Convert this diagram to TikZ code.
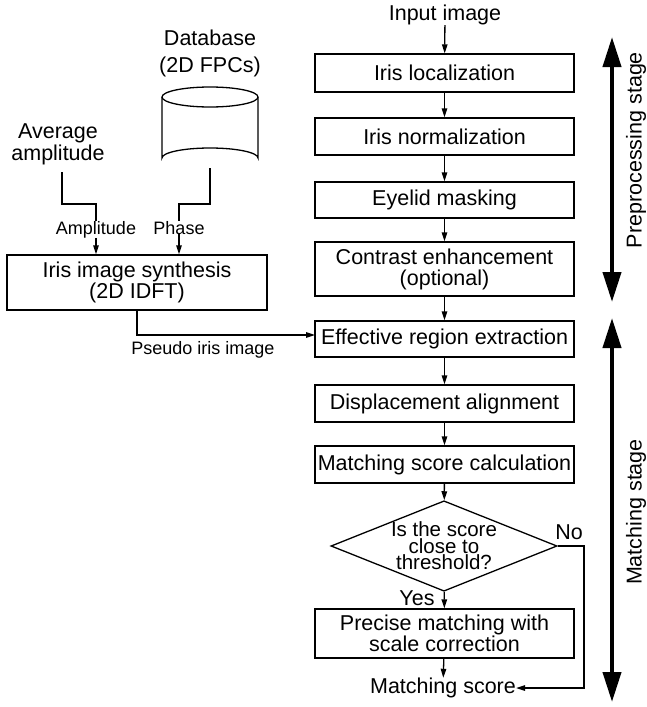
\documentclass[tikz,border=0pt]{standalone}
\usepackage{fontspec}
\setmainfont{Liberation Sans}
\usetikzlibrary{arrows.meta,shapes.geometric}
\begin{document}
\begin{tikzpicture}[x=1pt,y=-1pt,
 box/.style={draw, line width=1.3pt, minimum width=259pt, minimum height=37pt, align=center, font=\fontsize{21.5}{21}\selectfont, inner sep=0pt},
 txt/.style={align=center, font=\fontsize{21.5}{22}\selectfont, inner sep=0pt},
 lbl/.style={font=\fontsize{18}{20}\selectfont, inner sep=0pt},
 arr/.style={-{Triangle[length=9pt,width=5.5pt]}, line width=1.3pt},
 ln/.style={line width=1.3pt},
 big/.style={{Triangle[length=30pt,width=18pt]}-{Triangle[length=30pt,width=18pt]}, line width=4pt}]
\useasboundingbox (0,0) rectangle (646,707);

% right column
\node[txt] (in) at (445,15) {Input image};
\node[box, minimum height=38pt] (loc) at (444.5,73) {Iris localization};
\node[box] (norm) at (444.5,136.5) {Iris normalization};
\node[box, minimum height=36pt] (eye) at (444.5,200) {Eyelid masking};
\node[box, minimum height=54pt] (con) at (444.5,269) {Contrast enhancement\\(optional)};
\node[box, minimum height=36pt] (eff) at (444.5,339) {Effective region extraction};
\node[box] (disp) at (444.5,403.5) {Displacement alignment};
\node[box] (msc) at (444.5,464.5) {Matching score calculation};
\node[draw, line width=1.3pt, diamond, aspect=2.5, inner sep=0pt, minimum width=226pt, minimum height=90pt, align=center, font=\fontsize{20.5}{16.5}\selectfont] (dia) at (444,546) {Is the score\\close to\\threshold?};
\node[box, minimum height=49pt] (pm) at (444.5,633.5) {Precise matching with\\scale correction};
\node[txt] (ms) at (443,688) {Matching score};

\draw[arr] (in) -- (loc);
\draw[arr] (loc) -- (norm);
\draw[arr] (norm) -- (eye);
\draw[arr] (eye) -- (con);
\draw[arr] (con) -- (eff);
\draw[arr] (eff) -- (disp);
\draw[arr] (disp) -- (msc);
\draw[arr] (msc) -- (dia);
\draw[arr] (dia) -- (pm);
\draw[arr] (pm) -- (ms);
\node[txt] (yes) at (417,598) {Yes};
\coordinate (nocorner) at (584,546);
\draw[arr] (dia.east) -- (nocorner) |- (ms.east);
\node[txt] (no) at (569,532) {No};

% stage arrows
\coordinate (p1) at (612,37);
\coordinate (p2) at (612,302);
\coordinate (m1) at (612,318);
\coordinate (m2) at (612,702);
\draw[big] (p1) -- (p2);
\draw[big] (m1) -- (m2);
\node[txt, rotate=90] (pre) at (636,150) {Preprocessing stage};
\node[txt, rotate=90] (mst) at (636,512) {Matching stage};

% left part
\node[txt, font=\fontsize{21.5}{27}\selectfont] (db) at (210,53) {Database\\(2D FPCs)};
\draw[ln] (210,97) ellipse[x radius=48, y radius=10];
\draw[ln] (162,97) -- (162,158) arc[start angle=180, end angle=360, x radius=48, y radius=10] -- (258,97);
\coordinate (dbb) at (210,168);
\node[txt] (avg) at (58,144) {Average\\amplitude};
\node[box, minimum width=260pt, minimum height=55pt, font=\fontsize{21.5}{20}\selectfont] (syn) at (137,282.5) {Iris image synthesis\\(2D IDFT)};

\node[lbl, anchor=base] (amp) at (96,234) {Amplitude};
\node[lbl, anchor=base] (ph) at (179,234) {Phase};
\coordinate (a1) at (62,172);
\coordinate (a2) at (96,204);
\coordinate (ph1) at (179,204);
\draw[ln] (a1) |- (a2) -- (amp.north);
\draw[ln] (dbb) |- (ph1) -- (ph.north);
\draw[arr] (amp.south) -- (amp.south |- syn.north);
\draw[arr] (ph.south) -- (ph.south |- syn.north);

\coordinate (ps) at (137,310);
\coordinate (effin) at (315,335);
\draw[arr] (ps) |- (effin);
\node[lbl] (pl) at (203,350) {Pseudo iris image};
\end{tikzpicture}
\end{document}
